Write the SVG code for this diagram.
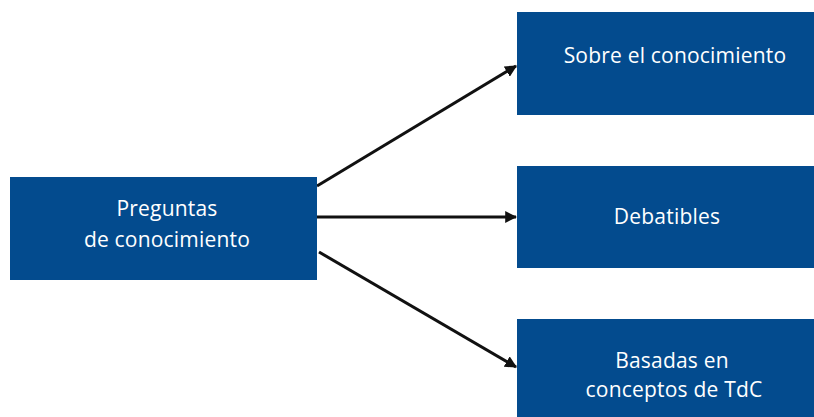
<svg xmlns="http://www.w3.org/2000/svg" width="814" height="417" viewBox="0 0 814 417">
<style>
.box{fill:#034b8e}
.t{font-family:"Open Sans","Liberation Sans",sans-serif;font-size:21px;font-weight:500;fill:#fff;text-anchor:middle;letter-spacing:0.2px}
.c{stroke:#111;stroke-width:3;fill:none;marker-end:url(#ah)}
</style>
<defs>
<marker id="ah" viewBox="0 0 10 10" refX="9" refY="5" markerWidth="4" markerHeight="4" orient="auto" markerUnits="strokeWidth">
<path d="M0,0 L10,5 L0,10 z" fill="#111"/>
</marker>
</defs>
<rect width="814" height="417" fill="#fff"/>
<g id="connectors">
<line class="c" x1="317" y1="186" x2="516" y2="66"/>
<line class="c" x1="317" y1="217" x2="516" y2="217"/>
<line class="c" x1="319" y1="252" x2="516" y2="367"/>
</g>
<g id="n-preguntas">
<rect class="box" x="10" y="177" width="307" height="103"/>
<text class="t" x="167" y="216">Preguntas</text>
<text class="t" x="167" y="247">de conocimiento</text>
</g>
<g id="n-sobre">
<rect class="box" x="517" y="12" width="297" height="103"/>
<text class="t" x="675" y="63">Sobre el conocimiento</text>
</g>
<g id="n-debatibles">
<rect class="box" x="517" y="166" width="297" height="102"/>
<text class="t" x="667" y="224">Debatibles</text>
</g>
<g id="n-basadas">
<rect class="box" x="517" y="319" width="297" height="98"/>
<text class="t" x="672" y="368">Basadas en</text>
<text class="t" x="674" y="397">conceptos de TdC</text>
</g>
</svg>
